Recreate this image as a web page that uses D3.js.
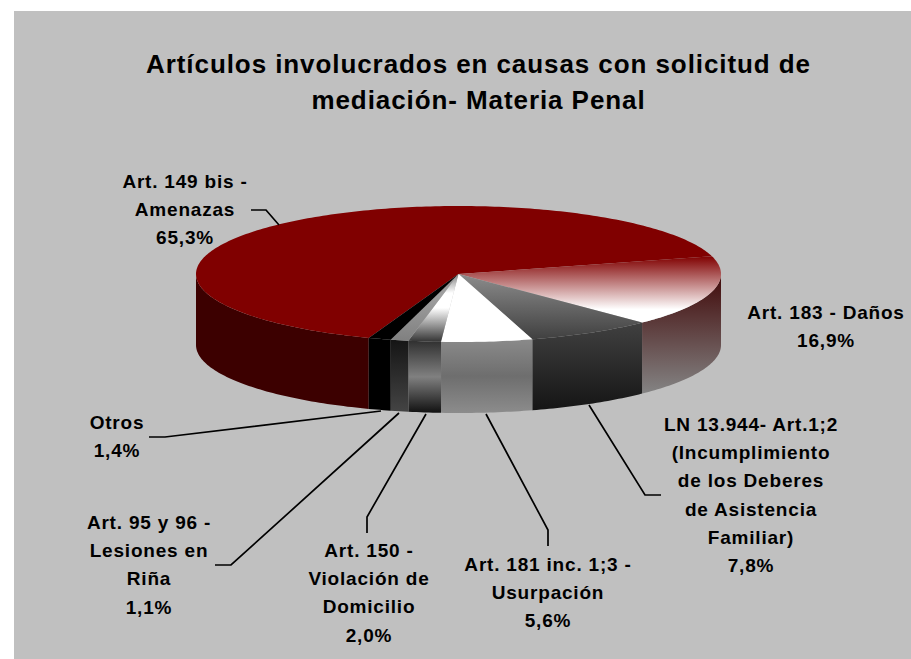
<!DOCTYPE html>
<html><head><meta charset="utf-8">
<style>html,body{margin:0;padding:0;background:#fff}svg{display:block}text{font-family:"Liberation Sans",Arial,sans-serif;font-weight:700;fill:#000}</style>
<script src="https://cdnjs.cloudflare.com/ajax/libs/d3/7.8.5/d3.min.js"></script>
</head><body><svg id="c" width="911" height="659"></svg>
<script>
const titleLines = ["Artículos involucrados en causas con solicitud de", "mediación- Materia Penal"];
const categories = ["Art. 149 bis - Amenazas","Art. 183 - Daños","LN 13.944- Art.1;2 (Incumplimiento de los Deberes de Asistencia Familiar)","Art. 181 inc. 1;3 - Usurpación","Art. 150 - Violación de Domicilio","Art. 95 y 96 - Lesiones en Riña","Otros"];
const values = [65.3,16.9,7.8,5.6,2.0,1.1,1.4];
const valueLabels = ["65,3%","16,9%","7,8%","5,6%","2,0%","1,1%","1,4%"];
const labelLines = [
 ["Art. 149 bis -","Amenazas"],["Art. 183 - Daños"],
 ["LN 13.944- Art.1;2","(Incumplimiento","de los Deberes","de Asistencia","Familiar)"],
 ["Art. 181 inc. 1;3 -","Usurpación"],["Art. 150 -","Violación de","Domicilio"],
 ["Art. 95 y 96 -","Lesiones en","Riña"],["Otros"]];
// layout: label centre x, first baseline y
const labelPos = [[185,188],[826,319],[751,431],[548,571],[369,557],[149,529],[117,429]];
const leaders = [
 [[251,210],[266,210],[279,225]],null,
 [[589,405],[645,495],[661,495]],
 [[486,414],[548,530],[548,546]],
 [[426,414],[367,517],[367,533]],
 [[399,413],[231,565],[215,565]],
 [[381,411],[165,437],[149,437]]];
const topStops = [
 [[0,"#800000"]],
 [[0,"#800000"],[.8,"#ffffff"]],
 [[0,"#8c8c8c"],[1,"#404040"]],
 [[0,"#ffffff"]],
 [[0,"#808080"],[.28,"#ffffff"],[.5,"#ffffff"],[1,"#333333"]],
 [[0,"#909090"],[.3,"#a0a0a0"],[1,"#808080"]],
 [[0,"#000000"]]];
const sideStops = [
 [[0,"#3c0000"]],
 [[0,"#400808"],[1,"#848484"]],
 [[0,"#404040"],[1,"#151515"]],
 [[0,"#8a8a8a"],[.5,"#6e6e6e"],[1,"#8c8c8c"]],
 [[0,"#303030"],[.5,"#808080"],[1,"#111111"]],
 [[0,"#151515"],[1,"#444444"]],
 [[0,"#000000"]]];

const svg = d3.select("#c");
svg.append("rect").attr("x",14).attr("y",11).attr("width",897).attr("height",648).attr("fill","#c0c0c0");
const cx=458.5, cy=274, rx=262.5, ry=68, depth=71;
const toRad=Math.PI/180;
const pie=d3.pie().sort(null).startAngle(200*toRad).endAngle(560*toRad);
const arcs=pie(values);
const sx=d3.scaleLinear().domain([-1,1]).range([cx-rx,cx+rx]);
const sy=d3.scaleLinear().domain([-1,1]).range([cy-ry,cy+ry]);
const defs=svg.append("defs");
function grad(id,stops){
  const g=defs.append("linearGradient").attr("id",id).attr("x1",0).attr("y1",0).attr("x2",0).attr("y2",1);
  stops.forEach(s=>g.append("stop").attr("offset",s[0]).attr("stop-color",s[1]));
  return `url(#${id})`;
}
const px=a=>sx(Math.sin(a)), py=a=>sy(-Math.cos(a));
function sidePath(a0,a1){
  const seg=(l,h)=>{
    if(h<=l) return "";
    const n=Math.max(2,Math.ceil((h-l)/toRad)), top=d3.range(n+1).map(i=>l+(h-l)*i/n);
    return d3.line()(top.map(t=>[px(t),py(t)]).concat(top.slice().reverse().map(t=>[px(t),py(t)+depth])))+"Z";
  };
  return seg(Math.max(a0,90*toRad),Math.min(a1,270*toRad))+seg(Math.max(a0,450*toRad),Math.min(a1,630*toRad));
}
const gSide=svg.append("g"), gTop=svg.append("g");
gSide.selectAll("path").data(arcs).join("path")
  .attr("d",d=>sidePath(d.startAngle,d.endAngle))
  .attr("fill",(d,i)=>grad("s"+i,sideStops[i]));
gTop.selectAll("path").data(arcs).join("path")
  .attr("d",d=>{
    const n=Math.max(2,Math.ceil((d.endAngle-d.startAngle)/toRad));
    const pts=d3.range(n+1).map(i=>d.startAngle+(d.endAngle-d.startAngle)*i/n).map(t=>[px(t),py(t)]);
    return d3.line()([[sx(0),sy(0)]].concat(pts))+"Z";
  })
  .attr("fill",(d,i)=>grad("t"+i,topStops[i]));

svg.append("g").selectAll("path").data(leaders.filter(Boolean)).join("path")
  .attr("d",d3.line()).attr("fill","none").attr("stroke","#000").attr("stroke-width",1.7);

const title=svg.append("g");
titleLines.forEach((t,i)=>title.append("text").attr("x",478.5).attr("y",73+i*36).attr("text-anchor","middle").attr("font-size",26).attr("letter-spacing",0.92).text(t));
const lh=28.2;
categories.forEach((c,i)=>{
  const lines=labelLines[i].concat([valueLabels[i]]);
  const g=svg.append("g");
  lines.forEach((l,j)=>g.append("text").attr("x",labelPos[i][0]).attr("y",labelPos[i][1]+j*lh).attr("text-anchor","middle").attr("font-size",19).attr("letter-spacing",0.8).text(l));
});
</script></body></html>
